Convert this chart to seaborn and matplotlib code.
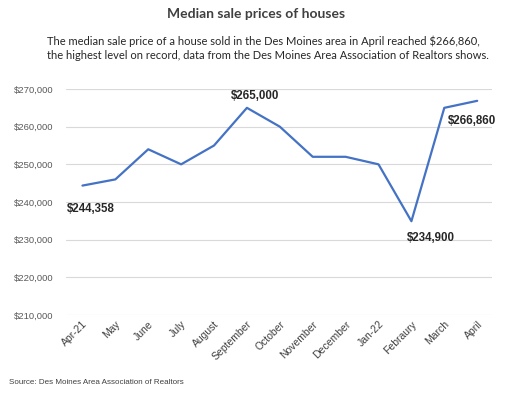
import seaborn as sns
import pandas as pd
import matplotlib.pyplot as plt

months = ["Apr-21", "May", "June", "July", "August", "September", "October",
          "November", "December", "Jan-22", "Febraury", "March", "April"]
prices = [244358, 246000, 254000, 250000, 255000, 265000, 260000,
          252000, 252000, 250000, 234900, 265000, 266860]

# labelled points: index -> (dx, dy) offset in points
callouts = {0: (-11.5, -17), 5: (6, 8.6), 10: (-3.6, -12), 12: (-21, -14.4)}

df = pd.DataFrame({"month": months, "price": prices, "pos": range(len(months))})

sns.set_theme(style="white")
plt.rcParams["font.family"] = ["Liberation Sans", "DejaVu Sans"]

fig = plt.figure(figsize=(5.12, 3.99), dpi=100)
ax = fig.add_axes([66 / 512, 84 / 399, 426 / 512, 226 / 399])

sns.lineplot(data=df, x="pos", y="price", color="#4472C4", linewidth=1.6, ax=ax)

ax.set_ylim(210000, 270000)
ax.set_xlim(-0.5, 12.45)
ax.set_yticks(range(210000, 270001, 10000))
ax.set_yticklabels([f"${v:,}" for v in range(210000, 270001, 10000)],
                   fontsize=6.8, color="#595959")
ax.set_xticks(df["pos"])
ax.set_xticklabels(months, rotation=45, ha="right", rotation_mode="anchor",
                   fontsize=7.5, color="#404040")
ax.tick_params(axis="both", length=0, pad=3)
ax.tick_params(axis="y", pad=9)
ax.grid(axis="y", color="#d9d9d9", linewidth=0.8)
ax.set_xlabel("")
ax.set_ylabel("")
sns.despine(ax=ax, left=True, bottom=True)

for i, (dx, dy) in callouts.items():
    ax.annotate(f"${prices[i]:,}", xy=(i, prices[i]), xytext=(dx, dy),
                textcoords="offset points", fontsize=8.3, fontweight="bold",
                color="#262626", ha="left" if i != 5 else "center", va="center")

fig.text(0.5, 1 - 14 / 399, "Median sale prices of houses", ha="center", va="center",
         fontsize=10, fontweight="bold", color="#404040", family=["Lato", "DejaVu Sans"])
fig.text(47 / 512, 1 - 48 / 399,
         "The median sale price of a house sold in the Des Moines area in April reached $266,860,\n"
         "the highest level on record, data from the Des Moines Area Association of Realtors shows.",
         ha="left", va="center", fontsize=8, color="#262626", linespacing=1.35,
         family=["Lato", "DejaVu Sans"])
fig.text(9 / 512, 1 - 383 / 399, "Source: Des Moines Area Association of Realtors",
         ha="left", va="center", fontsize=5.8, color="#404040")

fig.savefig("out.png", dpi=100)
